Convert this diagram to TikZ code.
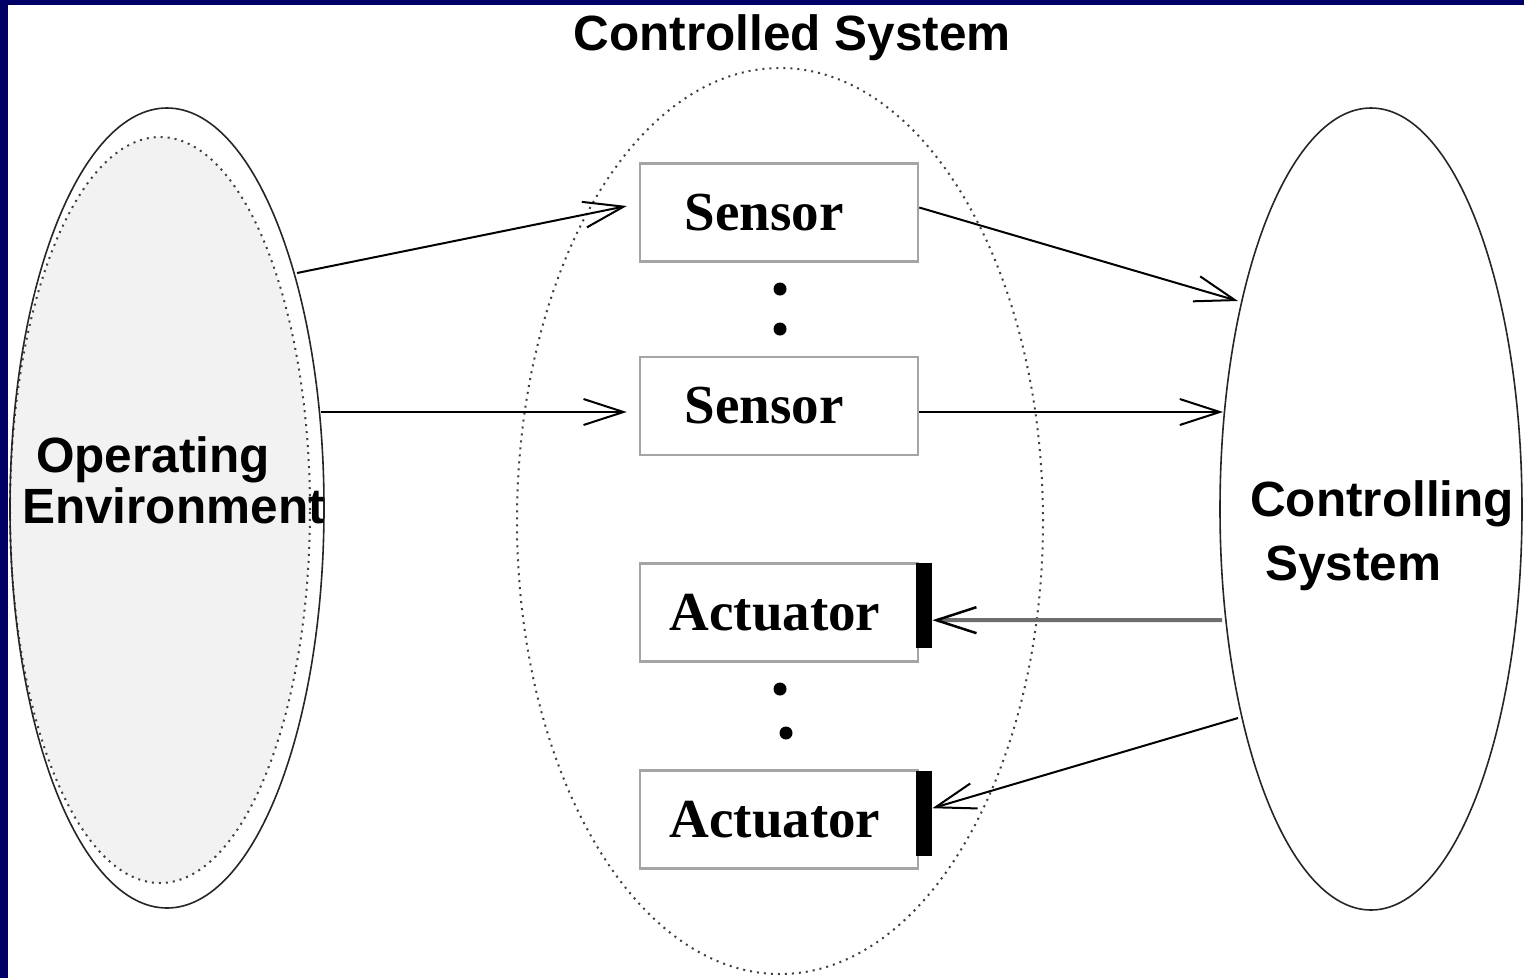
\documentclass[tikz,border=0pt]{standalone}
\usepackage{fontspec}
\setmainfont{Liberation Serif}
\newfontfamily\hv{Liberation Sans}
\usetikzlibrary{shapes.geometric,arrows.meta}
\definecolor{navy}{RGB}{0,0,102}
\definecolor{envgray}{RGB}{242,242,242}
\definecolor{boxgray}{RGB}{165,165,165}
\definecolor{linegray}{RGB}{110,110,110}
\begin{document}
\begin{tikzpicture}[x=1pt,y=-1pt,
  dotline/.style={draw=black!75, line width=2pt, dash pattern=on 2pt off 5pt},
  solidell/.style={ellipse, draw=black!85, line width=1.6pt, inner sep=0},
  stbox/.style={draw=boxgray, line width=2.5pt, fill=white, minimum width=278pt, minimum height=98pt, inner sep=0,
     font=\fontsize{55}{60}\selectfont\bfseries},
  bar/.style={fill=black, minimum width=16pt, minimum height=85pt, inner sep=0, anchor=north west},
  dotnode/.style={circle, fill=black, inner sep=0, minimum size=13pt},
  lbl/.style={font=\hv\bfseries\fontsize{49.5}{55}\selectfont, inner sep=0},
  arr/.style={line width=2pt, -{Straight Barb[length=40pt,width=26pt,line width=2pt]}},
  garr/.style={draw=linegray, line width=4pt, -{Straight Barb[length=40pt,width=26pt,line width=2.5pt,color=black]}}
]
\useasboundingbox (0,0) rectangle (1524,978);
\fill[white] (0,0) rectangle (1524,978);
\fill[navy] (0,0) rectangle (8,978);
\fill[navy] (0,0) rectangle (1524,5);

% ellipses
\node[ellipse, dotline, fill=envgray, minimum width=300pt, minimum height=746pt, inner sep=0] (oein) at (160,510) {};
\node[solidell, minimum width=314pt, minimum height=800pt] (oe) at (167,508) {};
\node[ellipse, dotline, minimum width=526pt, minimum height=906pt, inner sep=0] (cs) at (780,521) {};
\node[solidell, minimum width=302pt, minimum height=802pt] (cts) at (1371,509) {};

% boxes
\node[stbox] (s1) at (779,212.5) {Sensor\kern30pt};
\node[stbox] (s2) at (779,406) {Sensor\kern30pt};
\node[stbox] (a1) at (779,612.5) {Actuator\kern8pt};
\node[stbox] (a2) at (779,819.5) {Actuator\kern8pt};
\node[bar] (b1) at (916,563) {};
\node[bar] (b2) at (916,771) {};

% dots
\node[dotnode] (d1) at (780,289) {};
\node[dotnode] (d2) at (780,329) {};
\node[dotnode] (d3) at (780,689) {};
\node[dotnode] (d4) at (786,733) {};

% labels
\node[lbl] (title) at (792,38) {Controlled System};
\node[lbl, anchor=base west] (oel1) at (36,472) {Operating};
\node[lbl, anchor=base west] (oel2) at (22,523) {Environment};
\node[lbl, anchor=base west] (ctl1) at (1250,516) {Controlling};
\node[lbl, anchor=base west] (ctl2) at (1265,580) {System};

% coordinates on ellipse borders
\coordinate (oe1) at (297,273);
\coordinate (oe2) at (321,412);
\coordinate (ct1) at (1238,301);
\coordinate (ct2) at (1223,412);
\coordinate (ct3) at (1222,620);
\coordinate (ct4) at (1238,718);

% connectors
\draw[arr] (oe1) -- ([xshift=-12pt,yshift=6.5pt]s1.west);
\draw[arr] (oe2) -- ([xshift=-12pt,yshift=-6pt]s2.west);
\draw[arr] ([yshift=5pt]s1.east) -- (ct1);
\draw[arr] ([yshift=-6pt]s2.east) -- (ct2);
\draw[garr] (ct3) -- ([yshift=-14.5pt]b1.east);
\draw[arr] (ct4) -- ([yshift=5.5pt]b2.east);
\end{tikzpicture}
\end{document}
